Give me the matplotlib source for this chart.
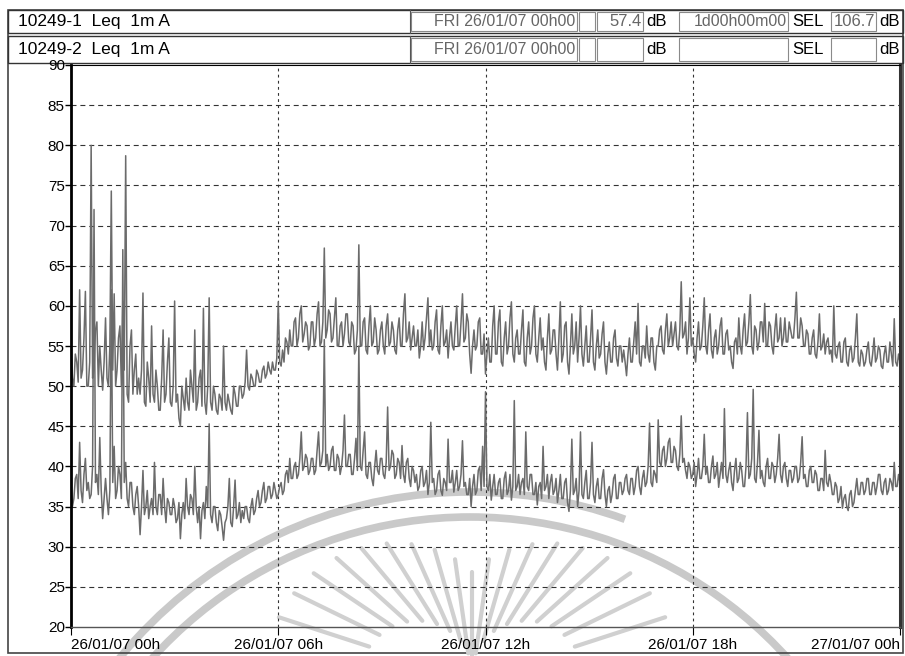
import numpy as np
import matplotlib
matplotlib.use('Agg')
import matplotlib.pyplot as plt
from matplotlib.patches import Rectangle, Arc

plt.rcParams['font.family'] = ['Liberation Sans', 'DejaVu Sans']

# Leq 1m A readings, 24 per hour (every 2.5 min), one row per hour 00h..23h
ch1 = [
    [55, 51, 50, 54, 53, 50.5, 62, 51, 52, 56, 61.8, 50, 50, 53, 80, 51, 52, 57, 58, 50, 55, 52, 49.5, 53],
    [58.5, 51, 50, 55, 74.3, 52, 61.5, 50, 52, 56, 57.5, 50, 60.6, 52, 78.7, 49, 48, 55, 57, 49, 52, 54, 49, 51],
    [49, 52, 61.6, 48, 47.5, 53, 51, 48, 57.5, 49, 48, 52, 50, 47, 47, 51, 57, 48, 49, 53, 56, 48, 47.5, 50],
    [60.6, 48, 49, 46, 45, 50, 48.5, 47, 51, 48, 47, 52, 50, 48, 57, 47, 48, 51, 52, 47.5, 59.7, 48, 46.5, 50],
    [61, 48, 47, 50, 49, 47, 46.5, 49, 48.5, 47, 55, 48, 47, 49, 48, 47, 46.5, 50, 49, 47.5, 47.5, 50, 50, 48.5],
    [49, 50.5, 54.5, 50, 49.5, 51.5, 51, 50, 50, 52, 51.5, 50.5, 50.5, 52, 52.5, 51, 51.5, 53, 52, 51.5, 53, 52, 52, 53.5],
    [60.5, 53, 52.5, 54.5, 53, 56, 55.5, 54, 57, 55, 55, 58, 58.5, 55, 56, 59, 60, 55.5, 56.5, 58, 57.5, 54.5, 55, 58],
    [58, 55, 56, 59, 60.5, 55, 55.5, 58, 67.2, 56, 57, 59.5, 59, 55.5, 56, 58.5, 61, 55, 55, 57.5, 58, 55, 56.5, 59],
    [59, 55.5, 55, 58, 57.5, 54, 54.5, 57, 67.6, 55, 55, 58, 58.5, 54.5, 54, 57.5, 60, 55, 55.5, 58.5, 57, 54, 54.5, 57],
    [58, 55, 54, 57.5, 59, 55, 55.5, 58, 57, 54.5, 54, 57, 58.5, 55, 55, 59, 61.5, 55.5, 56, 58, 54.5, 56, 57.5, 55],
    [55, 57, 53.5, 55, 58, 54.5, 56, 58.5, 61, 55, 57, 54.5, 55, 58, 59.5, 54.5, 54, 57.5, 60, 55, 55.5, 57, 53.5, 56],
    [58, 55, 54.5, 57.5, 60, 55, 55, 58, 61.5, 55.5, 56, 59, 58, 54, 51.6, 55, 57, 54.5, 55, 58, 58.5, 54, 54, 56.5],
    [51.5, 54, 56, 53, 53, 57.5, 60, 54, 54, 58, 59.5, 53, 52.5, 56, 58, 54, 55, 58.5, 60.5, 54, 53, 56, 57, 54],
    [54, 57, 59.5, 53, 52.5, 56, 58, 54, 55, 58.5, 60, 54, 53, 56, 58.5, 54.5, 56, 53, 52, 56, 59, 54, 54.5, 57],
    [57, 54, 52, 56, 60.5, 53, 54, 57.5, 58, 53, 51.5, 55, 59, 54, 55, 58, 53, 56, 60, 54, 52.5, 55, 57.5, 53],
    [53, 56, 59.5, 53, 52, 55, 57, 53.5, 54, 56.5, 58, 53, 51.5, 54, 55.5, 53, 53, 56, 57, 53.5, 52.5, 55, 55, 53],
    [54.5, 53, 51.3, 54, 56, 53, 53, 55.5, 58, 54, 60.3, 53, 52.5, 55, 55, 53.5, 57.5, 54, 53, 56, 56, 53, 52, 55],
    [55, 57, 57.5, 54.5, 54, 57, 59, 55, 56, 58, 55, 56.5, 58, 55, 54.5, 57, 63, 56, 56.5, 58, 54, 56, 61, 55],
    [56, 54, 53, 56, 58, 54.5, 55, 57.5, 61, 55, 54, 57, 59, 54.5, 53.5, 56, 57, 54, 55, 57.5, 58.5, 54, 54, 56.5],
    [57, 54.5, 55, 53, 52.2, 55.5, 56, 54, 58.5, 55, 54, 57, 59, 55, 55.5, 58, 61.4, 55, 54, 57.5, 57, 54.5, 55.5, 58],
    [58, 55.5, 60.3, 55, 55, 58, 57.5, 55, 54, 57, 59, 55.5, 56, 58.5, 55, 56, 58.5, 55.5, 55.5, 58, 57, 56, 56, 58.5],
    [61.7, 56, 56, 58.5, 57.5, 55, 55, 57, 56.5, 54, 54, 56, 57, 54, 53.5, 55.5, 59, 54.5, 55, 56.5, 54, 55.5, 56, 54],
    [54.5, 53, 60, 54, 53.5, 55, 55.5, 53, 53, 55.5, 56, 53, 52.5, 54.5, 55, 53, 53.5, 56, 59, 53, 52.5, 54.5, 54, 52.5],
    [53, 54.5, 55.5, 53, 52.5, 54, 56, 53, 53.5, 55, 54.5, 52.5, 52.2, 54, 55, 53, 53, 55.5, 54, 52.5, 58.4, 53, 52.5, 54],
]
ch1_end = 53

ch2 = [
    [37.5, 35, 36, 38.5, 39, 36, 43, 37, 35.5, 39, 41, 37, 38, 36, 36.5, 40, 72, 38, 39, 36.5, 43.6, 37, 33.5, 36],
    [38.5, 36, 34, 37, 62, 38, 42.5, 36, 37, 40, 39, 36, 67, 38, 40.5, 36, 35, 38, 38, 35, 34, 36.5, 37.5, 35],
    [31.5, 35, 39.5, 34, 35, 37, 33.5, 35, 36, 34, 40.5, 35, 34, 36.5, 36.5, 34, 38.5, 35, 33, 36, 35.5, 34, 34, 36],
    [35, 33, 33.5, 35.5, 31, 34, 35.5, 33.5, 38.5, 35, 34, 36.5, 36, 34, 40, 35, 33, 35, 31, 34.5, 35.5, 33.5, 37.5, 35],
    [45.3, 34, 33, 35, 35, 33, 32, 34.5, 34, 32.5, 30.8, 33, 33.5, 35, 38.5, 33, 32.5, 35, 38.3, 33.5, 34, 35.5, 33, 34.5],
    [33.5, 35, 35, 33.5, 33, 35, 36, 34, 34.5, 36, 37, 35, 35.5, 37, 38, 35.5, 36, 37.5, 37.5, 36, 36.5, 38, 37, 36],
    [36.5, 37.5, 38, 36.5, 37, 39, 39.5, 38, 41, 38.5, 38.5, 40, 40.5, 38.5, 39, 41, 44.3, 39.5, 40, 41.5, 41, 39, 39.5, 41],
    [41, 39, 39.5, 42, 44.3, 40, 40.5, 42, 55.8, 40, 41.5, 39.5, 40, 42, 42.5, 39.5, 39.5, 41.5, 41, 39, 40, 42, 46.4, 40],
    [40, 41.5, 41.5, 39, 39, 41, 43.5, 39.5, 55, 40, 39.5, 42, 44.3, 39, 38.5, 40.5, 40.5, 38.5, 37.6, 40, 42, 39.5, 39, 41],
    [41, 39, 38.5, 40.5, 47.4, 39.5, 40, 42, 41.5, 38.5, 39, 41, 40.5, 38.5, 42.6, 39, 38, 40.5, 41, 38.5, 37.5, 40, 39.5, 38],
    [39, 37, 37.5, 39.5, 40, 37.5, 38, 39.5, 36.5, 38, 45.5, 38, 38.5, 36.5, 37, 39, 39.5, 37, 36.4, 38.5, 38, 37, 43.4, 38],
    [38, 39.5, 36.8, 38, 39.5, 37, 37.5, 39, 43.2, 37.5, 38, 36.5, 36.5, 38.5, 35, 37.5, 39, 36.5, 37, 39.5, 40, 37, 42.5, 37.5],
    [49.3, 37.5, 37, 39, 35.8, 37.5, 39, 36.5, 36.5, 38, 38.5, 36, 36, 38.5, 39.3, 36.5, 37, 39, 35.8, 37.5, 48.2, 37, 37.5, 39],
    [36.5, 38, 38.5, 36.5, 44.3, 37.5, 37, 39, 39, 36.5, 36.5, 38, 35.2, 37.5, 38, 36, 42.5, 37, 37.5, 39, 36, 38, 39, 36.5],
    [37, 38.5, 35.5, 37, 39, 36, 36, 38, 38.5, 35.5, 34.4, 37, 43.4, 36.5, 37, 38.5, 35, 37, 44.3, 36.5, 36, 38, 39.5, 36],
    [36, 38, 43, 36.5, 35.5, 37.5, 38.5, 36, 36, 38.5, 39.6, 36.5, 35, 37, 37.5, 35.5, 36.5, 38.5, 39, 36, 36, 38, 38, 36.5],
    [37, 38.5, 39, 37, 36.5, 38.5, 38.5, 36.5, 37.5, 39.5, 40, 37.5, 36.5, 38.5, 39.5, 37.5, 38, 40, 45.4, 38, 37.5, 39.5, 39, 38],
    [45.8, 40.5, 40, 42, 42.5, 40, 41, 43, 43.5, 40.5, 40.5, 42.5, 42, 40, 39.5, 41.5, 46.3, 40.5, 41, 39.5, 38.5, 40.5, 40, 38.5],
    [39, 40.5, 37.5, 39, 41, 38.5, 38.5, 40, 44, 39, 40, 38, 38, 40, 41.3, 38.5, 39, 40.5, 37.4, 39, 40.5, 38.5, 47.2, 39],
    [38, 39.5, 40.5, 38, 37, 39.5, 41, 38, 38.5, 40.5, 39.5, 37.5, 37.5, 40, 46.7, 38.5, 39, 41, 49.6, 38.5, 38, 40.5, 44.5, 38.5],
    [39.5, 38, 37.5, 40, 41, 38.5, 38.5, 40.5, 40, 38, 39, 41, 44, 39, 38, 40, 40.5, 38.5, 37.5, 39.5, 39.5, 38, 38.5, 40],
    [40, 38, 38.5, 40.5, 43.7, 38.5, 39, 37.5, 37.5, 39.5, 40, 38, 38, 39.5, 39, 37, 37, 38.5, 38.5, 37, 42, 38, 37.5, 39],
    [38, 36.5, 36.5, 38, 37.5, 35.5, 36, 37.5, 34.8, 36, 36.5, 35, 34.5, 36.5, 37, 35, 35.5, 37, 38.5, 36.5, 36.5, 38, 38, 36.5],
    [37, 38.5, 38.5, 36.5, 36.5, 38, 38, 36.5, 37.5, 39, 39, 37, 36.5, 38, 38.5, 36.5, 37, 38.5, 38, 37, 40.5, 37.5, 37.5, 39],
]
ch2_end = 38

hour_ticks = [0, 6, 12, 18, 24]
hour_labels = ['26/01/07 00h', '26/01/07 06h', '26/01/07 12h',
               '26/01/07 18h', '27/01/07 00h']
db_ticks = list(range(20, 95, 5))

channels = ['10249-1  Leq  1m A', '10249-2  Leq  1m A']
start_txt = 'FRI 26/01/07 00h00'
leq_txt = ['57.4', '']
dur_txt = ['1d00h00m00', '']
sel_txt = ['106.7', '']

y1 = np.array([v for row in ch1 for v in row] + [ch1_end])
y2 = np.array([v for row in ch2 for v in row] + [ch2_end])
t = np.arange(len(y1)) / 24.0

W, H = 905, 656
fig = plt.figure(figsize=(W / 100, H / 100), dpi=100)

# background layer in pixel coords: header cells, frame, stamp
bg = fig.add_axes([0, 0, 1, 1], zorder=0)
bg.set_xlim(0, W)
bg.set_ylim(H, 0)
bg.axis('off')

# faint stamp left on the scan
stamp = '#c9c9c9'
bg.add_patch(Arc((470, 945), 906, 906, theta1=200, theta2=290, color=stamp, lw=5.5))
bg.add_patch(Arc((470, 945), 856, 856, theta1=200, theta2=340, color=stamp, lw=5.5))
for a in np.linspace(18, 162, 19):
    ang = np.deg2rad(a)
    r_out = 108 + 100 * abs(np.cos(ang))
    r_in = r_out - 95
    bg.plot([472 + r_in * np.cos(ang), 472 + r_out * np.cos(ang)],
            [680 - r_in * np.sin(ang), 680 - r_out * np.sin(ang)],
            color='#d0d0d0', lw=3, solid_capstyle='round')

bg.add_patch(Rectangle((8, 10), 895, 643, fill=False, ec='#444444', lw=1.2))
rows = [(10, 33), (36, 63)]
for i, (top, bot) in enumerate(rows):
    h = bot - top
    yc = (top + bot) / 2
    bg.add_patch(Rectangle((8, top), 895, h, fill=False, ec='#333333', lw=1.0))
    bg.plot([410, 410], [top, bot], color='#555555', lw=0.8)
    for x0, x1 in [(410, 578), (578, 596), (596, 644), (678, 789), (830, 877)]:
        bg.add_patch(Rectangle((x0 + 1, top + 2), x1 - x0 - 2, h - 4,
                               fill=False, ec='#8a8a8a', lw=0.8))
    bg.text(18, yc, channels[i], fontsize=12.5, va='center', ha='left')
    bg.text(575, yc, start_txt, fontsize=11.5, va='center', ha='right', color='#666666')
    bg.text(642, yc, leq_txt[i], fontsize=12, va='center', ha='right', color='#666666')
    bg.text(646, yc, 'dB', fontsize=12, va='center', ha='left')
    bg.text(787, yc, dur_txt[i], fontsize=11.5, va='center', ha='right', color='#666666')
    bg.text(792, yc, 'SEL', fontsize=12, va='center', ha='left')
    bg.text(875, yc, sel_txt[i], fontsize=12, va='center', ha='right', color='#666666')
    bg.text(879, yc, 'dB', fontsize=12, va='center', ha='left')

# plot area
ax = fig.add_axes([71 / W, (H - 627) / H, 829 / W, 562 / H], zorder=1)
ax.patch.set_alpha(0)
ax.plot(t, y1, color='#6b6b6b', lw=1.1)
ax.plot(t, y2, color='#6b6b6b', lw=1.1)

ax.set_xlim(0, 24)
ax.set_ylim(20, 90)
ax.set_yticks(db_ticks)
ax.set_yticklabels([str(v) for v in db_ticks])
ax.set_xticks(hour_ticks)
ax.set_xticklabels(hour_labels)
labels = ax.get_xticklabels()
labels[0].set_ha('left')
labels[-1].set_ha('right')
ax.tick_params(axis='y', direction='out', length=4, width=1, pad=0.5, labelsize=11)
ax.tick_params(axis='x', direction='out', length=6, width=0.8, pad=2, labelsize=11)

for v in db_ticks[1:-1]:
    ax.axhline(v, color='#333333', lw=0.8, ls=(0, (4.5, 3.5)), zorder=0)
for v in hour_ticks[1:-1]:
    ax.axvline(v, color='#333333', lw=0.8, ls=(0, (2.5, 3)), zorder=0)

ax.spines['left'].set_linewidth(2)
ax.spines['bottom'].set_color('#555555')
ax.spines['bottom'].set_linewidth(1)
ax.spines['top'].set_linewidth(0.8)
ax.spines['right'].set_linewidth(2.2)
ax.spines['right'].set_color('#333333')

fig.savefig('out.png', dpi=100)
